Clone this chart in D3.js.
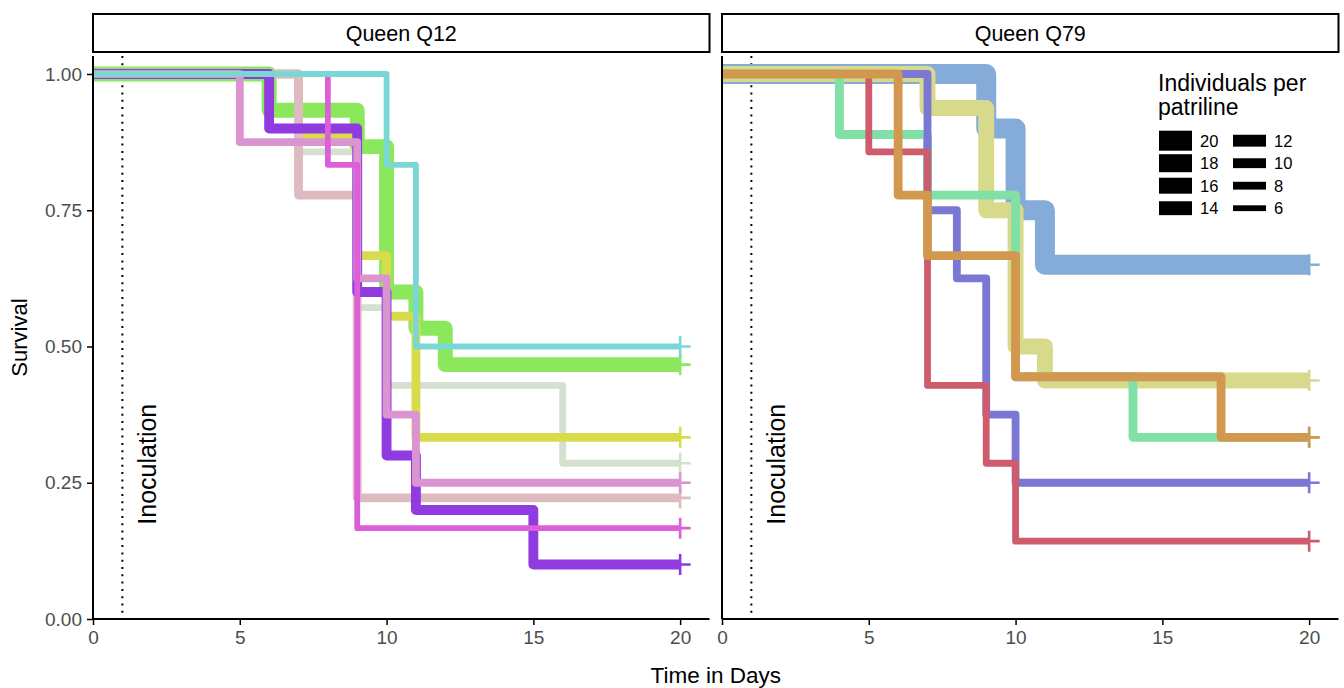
<!DOCTYPE html>
<html lang="en">
<head>
<meta charset="UTF-8">
<title>Survival per patriline</title>
<script src="https://d3js.org/d3.v7.min.js"></script>
<style>
  body { margin: 0; background: #fff; }
  text { font-family: "Liberation Sans", Arial, Helvetica, sans-serif; }
  .tick text { fill: #4d4d4d; }
  .curve { fill: none; stroke-linejoin: round; stroke-linecap: butt; }
</style>
</head>
<body>
<div id="chart"></div>
<script>
"use strict";

// facets
var queens = ["Queen Q12", "Queen Q79"];

// Queen Q12 patrilines (in drawing order)
var q12Colors = ["#8be85c", "#d5e0d0", "#d8dc4b", "#debac1", "#903be0", "#da95d1", "#dd5fd7", "#7ad7d6"];
var q12N      = [15, 7, 9, 9, 10, 8, 6, 6];
var q12Times  = [
  [0, 6, 9, 10, 11, 12],
  [0, 7, 9, 10, 16],
  [0, 7, 9, 10, 11],
  [0, 7, 9],
  [0, 6, 9, 10, 11, 15],
  [0, 5, 9, 10, 11],
  [0, 8, 9],
  [0, 10, 11]
];
var q12Alive  = [
  [15, 14, 13, 9, 8, 7],
  [7, 6, 4, 3, 2],
  [9, 8, 6, 5, 3],
  [9, 7, 2],
  [10, 9, 6, 3, 2, 1],
  [8, 7, 5, 3, 2],
  [6, 5, 1],
  [6, 5, 3]
];

// Queen Q79 patrilines
var q79Colors = ["#85acd8", "#d7da8a", "#80e0a5", "#7b77d4", "#ce5c6d", "#d39850"];
var q79N      = [20, 16, 9, 8, 7, 9];
var q79Times  = [
  [0, 9, 10, 11],
  [0, 7, 9, 10, 11],
  [0, 4, 7, 10, 14],
  [0, 7, 8, 9, 10],
  [0, 5, 7, 9, 10],
  [0, 6, 7, 10, 17]
];
var q79Alive  = [
  [20, 18, 15, 13],
  [16, 15, 12, 8, 7],
  [9, 8, 7, 4, 3],
  [8, 6, 5, 3, 2],
  [7, 6, 3, 2, 1],
  [9, 7, 6, 4, 3]
];

var endDay = 20;
var inoculationDay = 1;
var xTicks = [0, 5, 10, 15, 20];
var yTicks = [0, 0.25, 0.5, 0.75, 1];
var legendSizes = [20, 18, 16, 14, 12, 10, 8, 6];

var width = 1344, height = 688;
var panelTop = 56, panelBottom = 619;
var panelLefts = [93, 722], panelW = 616.5;

var svg = d3.select("#chart").append("svg")
  .attr("width", width).attr("height", height);

var y = d3.scaleLinear().domain([0, 1.033]).range([panelBottom, panelTop]);
var sizeScale = d3.scaleLinear().domain([6, 20]).range([5.8, 20]);

var panelData = [
  { colors: q12Colors, n: q12N, times: q12Times, alive: q12Alive },
  { colors: q79Colors, n: q79N, times: q79Times, alive: q79Alive }
];

panelData.forEach(function (pd, p) {
  var left = panelLefts[p];
  var x = d3.scaleLinear().domain([0, 21]).range([left, left + panelW]);
  var g = svg.append("g");

  // strip
  g.append("rect")
    .attr("x", left).attr("y", 14)
    .attr("width", panelW).attr("height", 38)
    .attr("fill", "#fff").attr("stroke", "#000").attr("stroke-width", 2);
  g.append("text")
    .attr("x", left + panelW / 2).attr("y", 41)
    .attr("text-anchor", "middle")
    .style("font-size", "21.5px")
    .text(queens[p]);

  // inoculation marker
  g.append("line")
    .attr("x1", x(inoculationDay)).attr("x2", x(inoculationDay))
    .attr("y1", panelTop).attr("y2", panelBottom)
    .attr("stroke", "#000").attr("stroke-width", 2)
    .attr("stroke-dasharray", "2,5.3");
  g.append("text")
    .attr("transform", "translate(" + (x(1.84) + 8.5) + "," + y(0.284) + ") rotate(-90)")
    .attr("text-anchor", "middle")
    .style("font-size", "25px")
    .text("Inoculation");

  // curves
  var line = d3.line()
    .x(function (d) { return x(d[0]); })
    .y(function (d) { return y(d[1]); })
    .curve(d3.curveStepAfter);

  pd.colors.forEach(function (col, i) {
    var pts = pd.times[i].map(function (t, k) { return [t, pd.alive[i][k] / pd.n[i]]; });
    pts.push([endDay, pd.alive[i][pd.alive[i].length - 1] / pd.n[i]]);
    g.append("path")
      .attr("class", "curve")
      .attr("d", line(pts))
      .attr("stroke", col)
      .attr("stroke-width", sizeScale(pd.n[i]));
  });

  // censor marks
  pd.colors.forEach(function (col, i) {
    var s = pd.alive[i][pd.alive[i].length - 1] / pd.n[i];
    var cx = x(endDay), cy = y(s), r = 10.5;
    g.append("path")
      .attr("d", "M" + (cx - r) + "," + cy + "H" + (cx + r) + "M" + cx + "," + (cy - r) + "V" + (cy + r))
      .attr("stroke", col).attr("stroke-width", 2.6).attr("fill", "none");
  });

  // axes
  var xAxis = d3.axisBottom(x).tickValues(xTicks).tickSize(6).tickPadding(6);
  var gx = g.append("g")
    .attr("transform", "translate(0," + panelBottom + ")")
    .call(xAxis);
  gx.select(".domain").attr("stroke-width", 2).attr("d", "M" + left + ",0H" + (left + panelW));
  gx.selectAll(".tick line").attr("stroke-width", 1.5);
  gx.selectAll(".tick text").style("font-size", "19px");

  var yAxis = d3.axisLeft(y).tickValues(p === 0 ? yTicks : []).tickSize(6).tickPadding(5)
    .tickFormat(d3.format(".2f"));
  var gy = g.append("g")
    .attr("transform", "translate(" + left + ",0)")
    .call(yAxis);
  gy.select(".domain").attr("stroke-width", 2).attr("d", "M0," + panelTop + "V" + panelBottom);
  gy.selectAll(".tick line").attr("stroke-width", 1.5);
  gy.selectAll(".tick text").style("font-size", "19px");
});

// axis titles
svg.append("text")
  .attr("transform", "translate(27," + ((panelTop + panelBottom) / 2) + ") rotate(-90)")
  .attr("text-anchor", "middle")
  .style("font-size", "22px")
  .text("Survival");
svg.append("text")
  .attr("x", (panelLefts[0] + panelLefts[1] + panelW) / 2).attr("y", 683)
  .attr("text-anchor", "middle")
  .style("font-size", "22.5px")
  .text("Time in Days");

// legend
var lg = svg.append("g").attr("transform", "translate(1158,0)");
lg.append("text").attr("x", 0).attr("y", 91).style("font-size", "23px").text("Individuals per");
lg.append("text").attr("x", 0).attr("y", 115).style("font-size", "23px").text("patriline");
legendSizes.forEach(function (s, i) {
  var col = Math.floor(i / 4), row = i % 4;
  var kx = 1 + col * 74, ky = 140.7 + row * 22.5;
  var h = sizeScale(s);
  lg.append("rect")
    .attr("x", kx).attr("y", ky - h / 2)
    .attr("width", 33).attr("height", h)
    .attr("fill", "#000");
  lg.append("text")
    .attr("x", kx + 41).attr("y", ky)
    .attr("dy", "0.36em")
    .style("font-size", "16.5px")
    .text(s);
});
</script>
</body>
</html>
